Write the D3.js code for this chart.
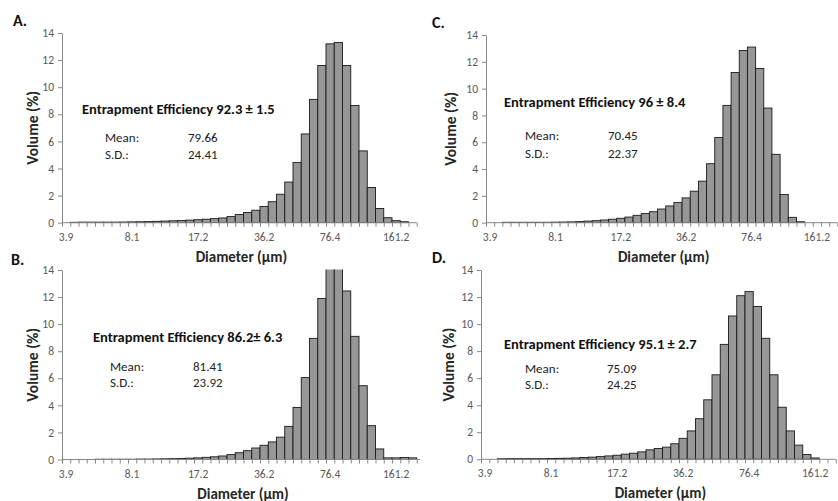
<!DOCTYPE html>
<html>
<head>
<meta charset="utf-8">
<script src="https://cdn.jsdelivr.net/npm/d3@7"></script>
<style>
  body { margin: 0; background: #fff; }
  svg { display: block; font-family: Carlito, Calibri, Lato, sans-serif; }
</style>
</head>
<body>
<svg id="chart" width="838" height="501"></svg>
<script>
// x categories: 43 log-spaced diameter bins, every 8th one labelled
var nBins = 43;
var tickLabels = ["3.9", "8.1", "17.2", "36.2", "76.4", "161.2"];
var yTicks = [0, 2, 4, 6, 8, 10, 12, 14];

// volume (%) per bin
var volA = [0, 0.03, 0.04, 0.04, 0.04, 0.04, 0.04, 0.05, 0.06, 0.07,
            0.08, 0.1, 0.12, 0.14, 0.16, 0.19, 0.22, 0.26, 0.3, 0.35,
            0.45, 0.6, 0.75, 0.92, 1.2, 1.55, 2.1, 3.0, 4.45, 6.55,
            9.1, 11.6, 13.2, 13.3, 11.6, 8.65, 5.3, 2.6, 1.05, 0.37,
            0.15, 0.07, 0];
var volB = [0, 0, 0, 0, 0.02, 0.02, 0.02, 0.02, 0.02, 0.03,
            0.03, 0.04, 0.05, 0.06, 0.08, 0.1, 0.12, 0.16, 0.2, 0.26,
            0.36, 0.5, 0.65, 0.85, 1.05, 1.3, 1.65, 2.45, 3.85, 6.05,
            8.95, 11.9, 14.3, 14.5, 12.45, 9.1, 5.45, 2.5, 0.78, 0.12,
            0.12, 0.15, 0.12];
var volC = [0, 0, 0.03, 0.03, 0.03, 0.03, 0.03, 0.03, 0.04, 0.05,
            0.06, 0.08, 0.12, 0.15, 0.2, 0.26, 0.33, 0.42, 0.55, 0.68,
            0.82, 1.02, 1.25, 1.5, 1.85, 2.35, 3.1, 4.4, 6.35, 8.75,
            11.2, 12.85, 13.1, 11.5, 8.55, 5.1, 2.1, 0.4, 0.07, 0,
            0, 0, 0];
var volD = [0, 0, 0.04, 0.05, 0.05, 0.05, 0.05, 0.05, 0.06, 0.07,
            0.08, 0.1, 0.13, 0.16, 0.2, 0.25, 0.3, 0.38, 0.45, 0.55,
            0.7, 0.8, 0.9, 1.15, 1.55, 2.1, 3.0, 4.4, 6.25, 8.5,
            10.6, 12.1, 12.4, 11.3, 8.95, 6.25, 3.85, 2.1, 1.05, 0.35,
            0.1, 0, 0];

var letters = ["A.", "B.", "C.", "D."];
var efficiency = ["Entrapment Efficiency 92.3 \u00b1 1.5", "Entrapment Efficiency 86.2\u00b1 6.3",
                  "Entrapment Efficiency 96 \u00b1 8.4", "Entrapment Efficiency 95.1 \u00b1 2.7"];
var means = ["79.66", "81.41", "70.45", "75.09"];
var sds = ["24.41", "23.92", "22.37", "24.25"];
var volumes = [volA, volB, volC, volD];

// layout of each panel (pixels)
var layout = [
  {left: 62,  right: 416.75, axisEnd: 416.75, top: 33,  bottom: 222.7, letter: [13, 26],  title: [82, 114],  mean: [105, 142], val: 188, sd: 159, ylab: 33},
  {left: 62,  right: 416.75, axisEnd: 420,    top: 270, bottom: 459.5, letter: [11, 265], title: [93, 342],  mean: [110, 371], val: 193, sd: 387, ylab: 33},
  {left: 486, right: 837.3,  axisEnd: 837.3,  top: 35,  bottom: 222.7, letter: [432, 28], title: [504, 107], mean: [525, 140], val: 608, sd: 158, ylab: 451},
  {left: 481, right: 835.75, axisEnd: 835.75, top: 270, bottom: 459.3, letter: [432, 263],title: [504, 349], mean: [525, 373], val: 607, sd: 389, ylab: 449}
];

var svg = d3.select("#chart");
var cats = d3.range(nBins);

layout.forEach(function(p, k) {
  var g = svg.append("g");
  var data = volumes[k];

  var x = d3.scaleBand().domain(cats).range([p.left, p.right]).padding(0);
  var xb = d3.scaleLinear().domain([0, nBins]).range([p.left, p.right]);
  var y = d3.scaleLinear().domain([0, 14]).range([p.bottom, p.top]);

  var clipId = "clip" + k;
  g.append("clipPath").attr("id", clipId)
    .append("rect")
    .attr("x", p.left).attr("y", p.top - 0.5)
    .attr("width", p.axisEnd - p.left).attr("height", p.bottom - p.top + 1);

  g.append("g").attr("clip-path", "url(#" + clipId + ")")
    .selectAll("rect")
    .data(cats.filter(function(i) { return data[i] > 0; }))
    .enter()
    .append("rect")
    .attr("x", function(i) { return x(i); })
    .attr("y", function(i) { return y(data[i]); })
    .attr("width", x.bandwidth())
    .attr("height", function(i) { return p.bottom - y(data[i]); })
    .attr("fill", "#979797")
    .attr("stroke", "#1a1a1a")
    .attr("stroke-width", 0.9);

  // y axis
  g.append("g")
    .attr("transform", "translate(" + p.left + ",0)")
    .call(d3.axisLeft(y).tickValues(yTicks).tickSize(4).tickSizeOuter(0).tickPadding(4));

  // x axis: tick marks between bins, labels under every 8th bin
  var xTicks = g.append("g")
    .attr("transform", "translate(0," + p.bottom + ")")
    .call(d3.axisBottom(xb).tickValues(d3.range(nBins + 1).filter(function(v) { return xb(v) <= p.axisEnd; }))
      .tickSize(4).tickSizeOuter(0).tickFormat(""));
  xTicks.select(".domain").attr("d", "M" + p.left + ",0H" + p.axisEnd);

  g.append("g")
    .attr("transform", "translate(0," + p.bottom + ")")
    .call(d3.axisBottom(x).tickValues(tickLabels.map(function(d, i) { return i * 8; }))
      .tickSize(0).tickPadding(10).tickFormat(function(d) { return tickLabels[d / 8]; }))
    .select(".domain").remove();

  g.selectAll(".domain, .tick line").attr("stroke", "#878787").attr("stroke-width", 1);
  g.selectAll(".tick text").attr("fill", "#595959").style("font-size", "11.5px")
    .style("font-family", "Carlito, Calibri, Lato, sans-serif");

  // axis titles
  g.append("text")
    .attr("transform", "translate(" + (p.ylab + 5) + "," + ((p.top + p.bottom) / 2) + ") rotate(-90)")
    .attr("text-anchor", "middle")
    .style("font-size", "15.5px").style("font-weight", "bold").attr("fill", "#262626")
    .text("Volume (%)");

  g.append("text")
    .attr("x", (p.left + p.axisEnd) / 2 + 2)
    .attr("y", p.bottom + 39)
    .attr("text-anchor", "middle")
    .style("font-size", "15px").style("font-weight", "bold").attr("fill", "#262626")
    .text("Diameter (\u00b5m)");

  // panel letter
  g.append("text")
    .attr("x", p.letter[0]).attr("y", p.letter[1])
    .style("font-size", "16px").style("font-weight", "bold").attr("fill", "#111")
    .text(letters[k]);

  // annotations
  g.append("text")
    .attr("x", p.title[0]).attr("y", p.title[1])
    .style("font-size", "14.5px").style("font-weight", "bold").attr("fill", "#111")
    .text(efficiency[k]);

  var rows = [["Mean:", means[k], p.mean[1]], ["S.D.:", sds[k], p.sd]];
  rows.forEach(function(r) {
    g.append("text").attr("x", p.mean[0]).attr("y", r[2])
      .style("font-size", "13px").attr("fill", "#222").text(r[0]);
    g.append("text").attr("x", p.val).attr("y", r[2])
      .style("font-size", "13px").attr("fill", "#222").text(r[1]);
  });
});
</script>
</body>
</html>
